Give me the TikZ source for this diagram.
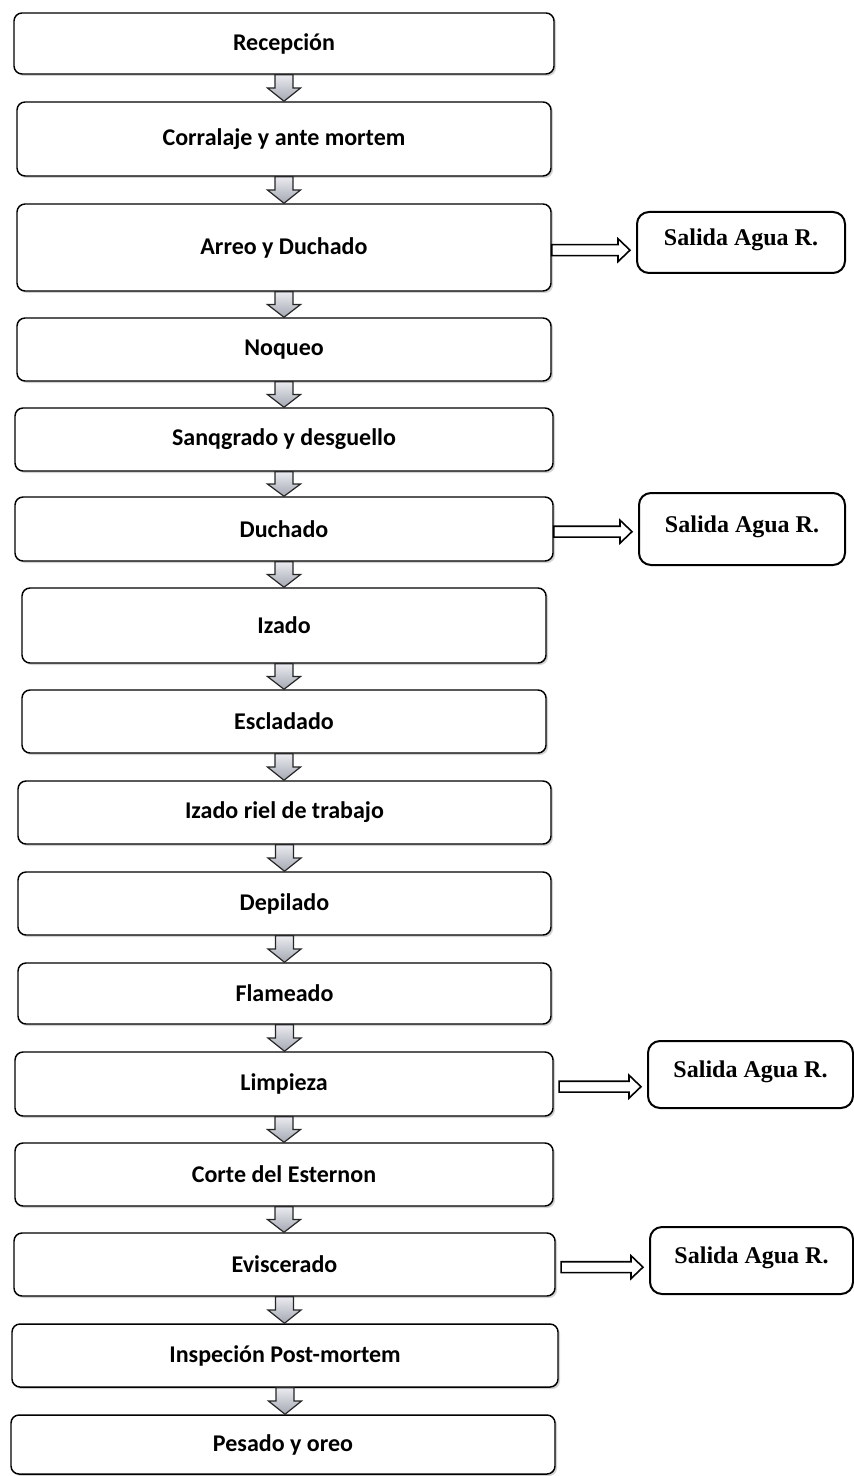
\documentclass[tikz,border=0pt]{standalone}
\usepackage{fontspec}
\setmainfont{Carlito}
\newfontfamily\salidafont{Liberation Serif}
\usetikzlibrary{fit,calc,shadows}

\definecolor{arrtop}{RGB}{234,235,240}
\definecolor{arrbot}{RGB}{164,168,178}

\tikzset{every picture/.style={line width=0.75pt}}
\tikzset{
  stage/.style={draw, rounded corners=6pt, line width=1.1pt, fill=white, inner sep=0pt,
    drop shadow={shadow xshift=1.5pt, shadow yshift=-1.5pt, opacity=0.35}},
  stagelabel/.style={font=\fontsize{18}{21}\selectfont\bfseries},
  salida/.style={draw, rounded corners=9pt, line width=1.5pt, fill=white, inner sep=0pt},
  salidalabel/.style={font=\salidafont\fontsize{18}{21}\selectfont\bfseries, yshift=2pt},
  downarr/.style={draw=black!85, line width=0.9pt, top color=arrtop, bottom color=arrbot},
  sidearr/.style={draw, line width=1.2pt, fill=white},
}

% block arrow from the bottom of #1 to the top of #2
\newcommand{\blockdown}[2]{%
  \draw[downarr] let \p1=(#1.south), \p2=(#2.north), \n1={0.5*(\y1+\y2)} in
    (\x1-6.75pt,\y1) -- (\x1-6.75pt,\n1) -- (\x1-12.4pt,\n1) -- (\x1,\y2)
    -- (\x1+12.4pt,\n1) -- (\x1+6.75pt,\n1) -- (\x1+6.75pt,\y1) -- cycle;}
% hollow arrow from #1 to #2, starting #3 after the edge of #1
\newcommand{\blockright}[3]{%
  \draw[sidearr] let \p1=(#1.east), \p2=(#2.west), \n1={\y1+2pt} in
    (\x1+#3,\n1+4.1pt) -- (\x2-13.5pt,\n1+4.1pt) -- (\x2-13.5pt,\n1+8.6pt) -- (\x2-4.5pt,\n1)
    -- (\x2-13.5pt,\n1-8.6pt) -- (\x2-13.5pt,\n1-4.1pt) -- (\x1+#3,\n1-4.1pt) -- cycle;}

\begin{document}
\begin{tikzpicture}[x=0.75pt,y=0.75pt,yscale=-1,xscale=1]
\useasboundingbox (0,0) rectangle (853,1476);

%Rounded Rect: process steps
\node[stage, fit={(14,13) (554,74)}, label={[stagelabel]center:Recepción}] (recep) {};
\node[stage, fit={(17,102) (551,176)}, label={[stagelabel]center:Corralaje y ante mortem}] (corral) {};
\node[stage, fit={(17,204) (551,291)}, label={[stagelabel]center:Arreo y Duchado}] (arreo) {};
\node[stage, fit={(17,318) (551,381)}, label={[stagelabel]center:Noqueo}] (noqueo) {};
\node[stage, fit={(15,408) (553,471)}, label={[stagelabel]center:Sanqgrado y desguello}] (sangrado) {};
\node[stage, fit={(15,497) (553,561)}, label={[stagelabel]center:Duchado}] (duchado) {};
\node[stage, fit={(22,588) (546,663)}, label={[stagelabel]center:Izado}] (izado) {};
\node[stage, fit={(22,690) (546,753)}, label={[stagelabel]center:Escladado}] (escaldado) {};
\node[stage, fit={(18,781) (551,844)}, label={[stagelabel]center:Izado riel de trabajo}] (riel) {};
\node[stage, fit={(18,872) (551,935)}, label={[stagelabel]center:Depilado}] (depilado) {};
\node[stage, fit={(18,963) (551,1024)}, label={[stagelabel]center:Flameado}] (flameado) {};
\node[stage, fit={(15,1052) (553,1116)}, label={[stagelabel]center:Limpieza}] (limpieza) {};
\node[stage, fit={(15,1143) (553,1206)}, label={[stagelabel]center:Corte del Esternon}] (corte) {};
\node[stage, fit={(14,1233) (555,1296)}, label={[stagelabel]center:Eviscerado}] (eviscerado) {};
\node[stage, fit={(12,1324) (558,1387)}, label={[stagelabel]center:Inspeción Post-mortem}] (inspeccion) {};
\node[stage, fit={(11,1415) (555,1474)}, label={[stagelabel]center:Pesado y oreo}] (pesado) {};

%Rounded Rect: water outputs
\node[salida, fit={(637,212) (845,273)}, label={[salidalabel]center:Salida Agua R.}] (sal1) {};
\node[salida, fit={(639,493) (845,565)}, label={[salidalabel]center:Salida Agua R.}] (sal2) {};
\node[salida, fit={(648,1041) (853,1108)}, label={[salidalabel]center:Salida Agua R.}] (sal3) {};
\node[salida, fit={(650,1227) (853,1294)}, label={[salidalabel]center:Salida Agua R.}] (sal4) {};

%Block Arrows down
\blockdown{recep}{corral}
\blockdown{corral}{arreo}
\blockdown{arreo}{noqueo}
\blockdown{noqueo}{sangrado}
\blockdown{sangrado}{duchado}
\blockdown{duchado}{izado}
\blockdown{izado}{escaldado}
\blockdown{escaldado}{riel}
\blockdown{riel}{depilado}
\blockdown{depilado}{flameado}
\blockdown{flameado}{limpieza}
\blockdown{limpieza}{corte}
\blockdown{corte}{eviscerado}
\blockdown{eviscerado}{inspeccion}
\blockdown{inspeccion}{pesado}

%Block Arrows right
\blockright{arreo}{sal1}{0pt}
\blockright{duchado}{sal2}{0pt}
\blockright{limpieza}{sal3}{4pt}
\blockright{eviscerado}{sal4}{4pt}

\end{tikzpicture}
\end{document}
